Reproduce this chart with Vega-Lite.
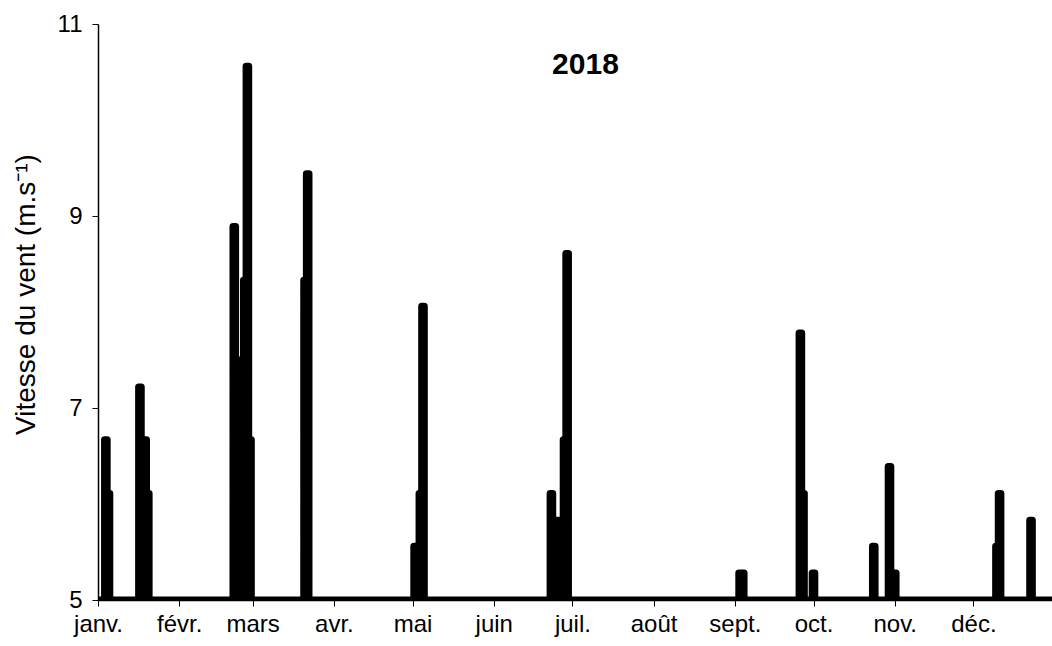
{
  "$schema": "https://vega.github.io/schema/vega-lite/v6.json",
  "width": 954,
  "height": 576,
  "autosize": {"type": "none"},
  "padding": {"left": 98, "top": 24, "right": 0, "bottom": 46},
  "background": "white",
  "config": {
    "view": {"stroke": null},
    "font": "Liberation Sans",
    "axis": {
      "domainColor": "black",
      "domainWidth": 1.5,
      "tickColor": "black",
      "tickWidth": 1,
      "tickSize": 6,
      "labelColor": "black",
      "titleColor": "black",
      "labelFont": "Liberation Sans",
      "titleFont": "Liberation Sans",
      "grid": false
    }
  },
  "datasets": {
    "wind": [
      {"date": "2018-01-01", "v": 5},
      {"date": "2018-01-03", "v": 5},
      {"date": "2018-01-04", "v": 6.67},
      {"date": "2018-01-05", "v": 6.11},
      {"date": "2018-01-06", "v": 5},
      {"date": "2018-01-16", "v": 5},
      {"date": "2018-01-17", "v": 7.22},
      {"date": "2018-01-18", "v": 6.67},
      {"date": "2018-01-19", "v": 6.67},
      {"date": "2018-01-20", "v": 6.11},
      {"date": "2018-01-21", "v": 5},
      {"date": "2018-02-21", "v": 5},
      {"date": "2018-02-22", "v": 8.89},
      {"date": "2018-02-23", "v": 7.5},
      {"date": "2018-02-24", "v": 7.5},
      {"date": "2018-02-25", "v": 7.5},
      {"date": "2018-02-26", "v": 8.33},
      {"date": "2018-02-27", "v": 10.56},
      {"date": "2018-02-28", "v": 6.67},
      {"date": "2018-03-01", "v": 5},
      {"date": "2018-03-20", "v": 5},
      {"date": "2018-03-21", "v": 8.33},
      {"date": "2018-03-22", "v": 9.44},
      {"date": "2018-03-23", "v": 5},
      {"date": "2018-05-01", "v": 5},
      {"date": "2018-05-02", "v": 5.56},
      {"date": "2018-05-03", "v": 5.56},
      {"date": "2018-05-04", "v": 6.11},
      {"date": "2018-05-05", "v": 8.06},
      {"date": "2018-05-06", "v": 5},
      {"date": "2018-06-22", "v": 5},
      {"date": "2018-06-23", "v": 6.11},
      {"date": "2018-06-24", "v": 5.83},
      {"date": "2018-06-25", "v": 5.83},
      {"date": "2018-06-26", "v": 5.83},
      {"date": "2018-06-27", "v": 5.83},
      {"date": "2018-06-28", "v": 6.67},
      {"date": "2018-06-29", "v": 8.61},
      {"date": "2018-06-30", "v": 5},
      {"date": "2018-09-02", "v": 5},
      {"date": "2018-09-03", "v": 5.28},
      {"date": "2018-09-04", "v": 5.28},
      {"date": "2018-09-05", "v": 5},
      {"date": "2018-09-25", "v": 5},
      {"date": "2018-09-26", "v": 7.78},
      {"date": "2018-09-27", "v": 6.11},
      {"date": "2018-09-28", "v": 5},
      {"date": "2018-09-30", "v": 5},
      {"date": "2018-10-01", "v": 5.28},
      {"date": "2018-10-02", "v": 5},
      {"date": "2018-10-23", "v": 5},
      {"date": "2018-10-24", "v": 5.56},
      {"date": "2018-10-25", "v": 5},
      {"date": "2018-10-29", "v": 5},
      {"date": "2018-10-30", "v": 6.39},
      {"date": "2018-10-31", "v": 5.28},
      {"date": "2018-11-01", "v": 5.28},
      {"date": "2018-11-02", "v": 5},
      {"date": "2018-12-09", "v": 5},
      {"date": "2018-12-10", "v": 5.56},
      {"date": "2018-12-11", "v": 6.11},
      {"date": "2018-12-12", "v": 5},
      {"date": "2018-12-22", "v": 5},
      {"date": "2018-12-23", "v": 5.83},
      {"date": "2018-12-24", "v": 5},
      {"date": "2018-12-31", "v": 5}
    ]
  },
  "layer": [
    {
      "data": {"name": "wind"},
      "mark": {"type": "area", "color": "black", "interpolate": "step", "clip": true},
      "encoding": {
        "x": {
          "field": "date",
          "type": "temporal",
          "scale": {"type": "utc", "domain": [{"year": 2018, "month": 1, "date": 1, "utc": true}, {"year": 2018, "month": 12, "date": 31, "utc": true}]},
          "axis": {
            "title": null,
            "values": [
              {"year": 2018, "month": 1, "date": 1, "utc": true},
              {"year": 2018, "month": 2, "date": 1, "utc": true},
              {"year": 2018, "month": 3, "date": 1, "utc": true},
              {"year": 2018, "month": 4, "date": 1, "utc": true},
              {"year": 2018, "month": 5, "date": 1, "utc": true},
              {"year": 2018, "month": 6, "date": 1, "utc": true},
              {"year": 2018, "month": 7, "date": 1, "utc": true},
              {"year": 2018, "month": 8, "date": 1, "utc": true},
              {"year": 2018, "month": 9, "date": 1, "utc": true},
              {"year": 2018, "month": 10, "date": 1, "utc": true},
              {"year": 2018, "month": 11, "date": 1, "utc": true},
              {"year": 2018, "month": 12, "date": 1, "utc": true}
            ],
            "labelExpr": "['janv.','févr.','mars','avr.','mai','juin','juil.','août','sept.','oct.','nov.','déc.'][utcmonth(datum.value)]",
            "labelFontSize": 24,
            "labelPadding": 6,
            "labelOverlap": false,
            "labelFlush": false
          }
        },
        "y": {
          "field": "v",
          "type": "quantitative",
          "scale": {"domain": [5, 11], "nice": false, "zero": false},
          "axis": {
            "values": [5, 7, 9, 11],
            "format": "d",
            "title": "Vitesse du vent (m.s⁻¹)",
            "titleFontSize": 28,
            "titleFontWeight": "normal",
            "titleX": -72,
            "titleY": 270,
            "titleAlign": "center",
            "titleBaseline": "middle",
            "titleAngle": -90,
            "labelFontSize": 24,
            "labelPadding": 10,
            "labelFlush": false
          }
        },
        "y2": {"datum": 5}
      }
    },
    {
      "data": {"name": "wind"},
      "mark": {"type": "line", "color": "black", "strokeWidth": 7, "strokeCap": "round", "strokeJoin": "round", "interpolate": "step", "clip": true},
      "encoding": {
        "x": {"field": "date", "type": "temporal"},
        "y": {"field": "v", "type": "quantitative"}
      }
    },
    {
      "data": {"values": [{"date": "2018-07-06", "v": 10.57, "label": "2018"}]},
      "mark": {"type": "text", "fontSize": 30, "fontWeight": "bold", "font": "Liberation Sans", "color": "black", "align": "center", "baseline": "middle"},
      "encoding": {
        "x": {"field": "date", "type": "temporal"},
        "y": {"field": "v", "type": "quantitative"},
        "text": {"field": "label"}
      }
    }
  ]
}
